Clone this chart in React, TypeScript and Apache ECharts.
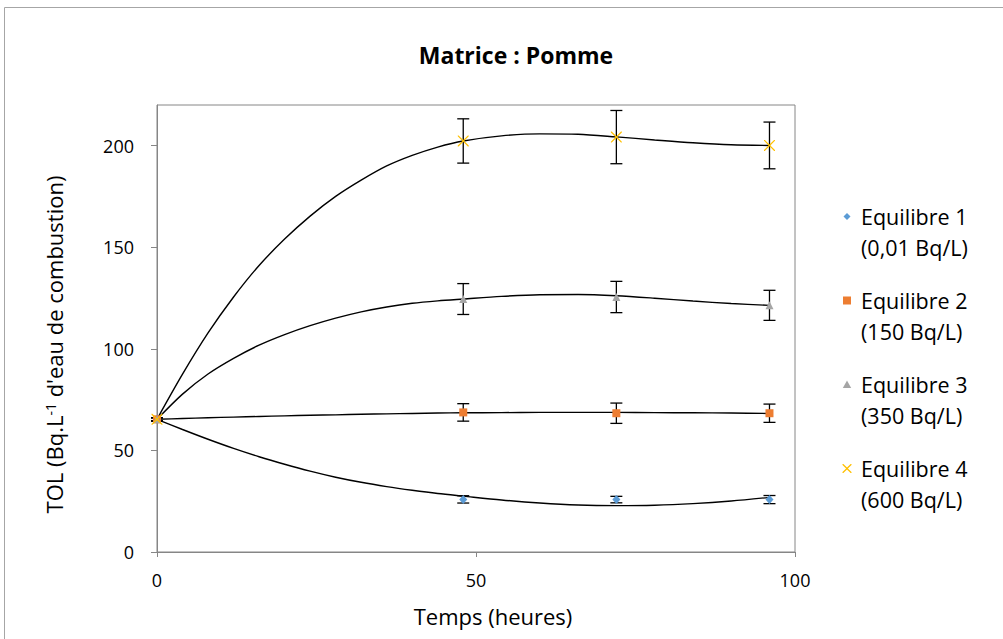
import React, { useEffect, useRef } from "react";
import * as echarts from "echarts";

// ---- data ----
const hours = [0, 48, 72, 96];
const seriesNames = ["Equilibre 1", "Equilibre 2", "Equilibre 3", "Equilibre 4"];
const concentrations = ["(0,01 Bq/L)", "(150 Bq/L)", "(350 Bq/L)", "(600 Bq/L)"];
const eq1 = [65.3, 25.9, 25.8, 25.8];
const eq2 = [65.3, 68.7, 68.3, 68.3];
const eq3 = [65.3, 124.5, 125.5, 121.4];
const eq4 = [65.3, 202.3, 204.2, 200.1];
const err1 = [0.8, 1.8, 1.6, 2.0];
const err2 = [0.8, 4.3, 5.0, 4.5];
const err3 = [0.8, 7.6, 7.7, 7.4];
const err4 = [0.8, 10.9, 13.1, 11.5];

// trend curves as drawn in the reference (read at these hours)
const trendHours = [0, 4, 8, 12, 16, 20, 24, 28, 32, 36, 40, 44, 48, 54, 60, 66, 72, 78, 84, 90, 96];
const trend1 = [65.3, 60.3, 55.5, 51.0, 46.9, 43.2, 39.8, 36.8, 34.3, 32.2, 30.4, 28.8, 27.5, 25.6, 24.1, 23.1, 22.8, 23.0, 23.8, 25.1, 26.9];
const trend2 = [65.3, 65.7, 66.1, 66.4, 66.7, 67.0, 67.3, 67.5, 67.8, 68.0, 68.2, 68.4, 68.5, 68.6, 68.7, 68.7, 68.7, 68.6, 68.5, 68.4, 68.2];
const trend3 = [65.3, 77.7, 87.6, 95.3, 101.8, 107.0, 111.4, 115.1, 118.2, 120.6, 122.4, 123.6, 124.5, 125.8, 126.6, 126.7, 126.1, 124.9, 123.5, 122.3, 121.4];
const trend4 = [65.3, 87.5, 107.8, 125.5, 141.0, 154.0, 165.3, 175.0, 183.0, 190.0, 195.2, 199.3, 202.3, 204.8, 205.8, 205.6, 204.3, 202.8, 201.4, 200.4, 200.1];

const yTicks = [0, 50, 100, 150, 200];

const colors = ["#5B9BD5", "#ED7D31", "#A5A5A5", "#FFC000"];
const FONT = "Open Sans";

const X_PATH =
  "path://M0,0 L0.8,0 L5,4.2 L9.2,0 L10,0 L10,0.8 L5.8,5 L10,9.2 L10,10 L9.2,10 L5,5.8 L0.8,10 L0,10 L0,9.2 L4.2,5 L0,0.8 Z";

// legend icons: shape beside the first text line, invisible anchors give a 14x62 box
const anchors = " M0,0 L0,0 M14,62 L14,62";
const legendIcons = [
  "path://M5,12 L8.5,15.5 L5,19 L1.5,15.5 Z" + anchors,
  "path://M1,11.5 L9,11.5 L9,19.5 L1,19.5 Z" + anchors,
  "path://M5,11.5 L9.2,19 L0.8,19 Z" + anchors,
  "path://M0.5,11 L1.4,11 L5,14.6 L8.6,11 L9.5,11 L9.5,11.9 L5.9,15.5 L9.5,19.1 L9.5,20 L8.6,20 L5,16.4 L1.4,20 L0.5,20 L0.5,19.1 L4.1,15.5 L0.5,11.9 Z" +
    anchors,
];

export default function App() {
  const ref = useRef<HTMLDivElement>(null);
  useEffect(() => {
    if (!ref.current) return;
    const chart = echarts.init(ref.current, null, { renderer: "svg" });

    const values = [eq1, eq2, eq3, eq4];
    const errs = [err1, err2, err3, err4];
    const trends = [trend1, trend2, trend3, trend4];

    const errData: number[][] = [];
    values.forEach((vals, s) => {
      hours.forEach((h, i) => {
        errData.push([h, vals[i] - errs[s][i], vals[i] + errs[s][i]]);
      });
    });

    const symbols = ["diamond", "rect", "triangle", X_PATH];
    const sizes: any[] = [[8, 9], 8, 8, 11];

    const option: any = {
      animation: false,
      backgroundColor: "#fff",
      textStyle: { fontFamily: FONT },
      title: {
        text: "Matrice : Pomme",
        left: 511,
        top: 38,
        textAlign: "center",
        textStyle: { fontFamily: FONT, fontSize: 23, fontWeight: "bold", color: "#000" },
      },
      graphic: [
        {
          type: "rect",
          shape: { x: 4.5, y: 7.5, width: 1100, height: 700 },
          style: { fill: "none", stroke: "#a6a6a6", lineWidth: 1 },
          silent: true,
        },
      ],
      legend: {
        orient: "vertical",
        left: 837,
        top: 196,
        itemWidth: 14,
        itemHeight: 62,
        itemGap: 22,
        selectedMode: false,
        data: seriesNames.map((n, i) => ({ name: n, icon: legendIcons[i] })),
        formatter: (name: string) => name + "\n" + concentrations[seriesNames.indexOf(name)],
        textStyle: { fontFamily: FONT, fontSize: 21.5, lineHeight: 31, color: "#000" },
      },
      grid: {
        left: 157,
        right: 208,
        top: 105,
        bottom: 87,
        show: true,
        borderColor: "#868686",
        borderWidth: 1,
      },
      xAxis: {
        type: "value",
        min: 0,
        max: 100,
        interval: 50,
        name: "Temps (heures)",
        nameLocation: "middle",
        nameGap: 53,
        nameTextStyle: { fontFamily: FONT, fontSize: 22, color: "#000", padding: [0, 0, 0, 34] },
        axisLine: { show: true, lineStyle: { color: "#868686" } },
        axisTick: { show: true, length: 5, lineStyle: { color: "#868686" } },
        axisLabel: { margin: 19, fontFamily: FONT, fontSize: 18, color: "#000" },
        splitLine: { show: false },
      },
      yAxis: {
        type: "value",
        min: 0,
        max: 220,
        interval: 50,
        name: "TOL (Bq.L{sup|-1} d'eau de combustion)",
        nameLocation: "middle",
        nameRotate: 90,
        nameGap: 92,
        nameTextStyle: {
          fontFamily: FONT,
          fontSize: 22,
          color: "#000",
          padding: [0, 32, 0, 0],
          rich: { sup: { fontFamily: FONT, fontSize: 14, verticalAlign: "top", color: "#000" } },
        },
        axisLine: { show: true, lineStyle: { color: "#868686" } },
        axisTick: { show: true, length: 6, customValues: yTicks, lineStyle: { color: "#868686" } },
        axisLabel: {
          margin: 23,
          fontFamily: FONT,
          fontSize: 18,
          color: "#000",
          customValues: yTicks,
          formatter: (v: number) => (yTicks.includes(v) ? String(v) : ""),
        },
        splitLine: { show: false },
      },
      series: [
        {
          type: "custom",
          name: "errors",
          silent: true,
          z: 1,
          data: errData,
          encode: { x: 0, y: [1, 2] },
          renderItem: (params: any, api: any) => {
            const x = api.value(0);
            const lo = api.coord([x, api.value(1)]);
            const hi = api.coord([x, api.value(2)]);
            const cap = 6;
            const st = { stroke: "#000", lineWidth: 1.3 };
            return {
              type: "group",
              children: [
                { type: "line", shape: { x1: lo[0], y1: lo[1], x2: hi[0], y2: hi[1] }, style: st },
                { type: "line", shape: { x1: lo[0] - cap, y1: lo[1], x2: lo[0] + cap, y2: lo[1] }, style: st },
                { type: "line", shape: { x1: hi[0] - cap, y1: hi[1], x2: hi[0] + cap, y2: hi[1] }, style: st },
              ],
            };
          },
        },
        ...trends.map((t, s) => ({
          type: "line",
          name: "trend" + (s + 1),
          data: trendHours.map((h, i) => [h, t[i]]),
          showSymbol: false,
          symbol: "none",
          smooth: 0.3,
          silent: true,
          z: 2,
          lineStyle: { color: "#000", width: 1.4 },
        })),
        ...values.map((vals, s) => ({
          type: "scatter",
          name: seriesNames[s],
          data: hours.map((h, i) => [h, vals[i]]),
          symbol: symbols[s],
          symbolSize: sizes[s],
          z: 3,
          itemStyle: { color: colors[s], opacity: 1 },
        })),
      ],
    };
    chart.setOption(option);
    return () => chart.dispose();
  }, []);
  return (
    <div
      ref={ref}
      style={{ position: "fixed", left: 0, top: 0, width: 1003, height: 639, background: "#fff" }}
    />
  );
}
